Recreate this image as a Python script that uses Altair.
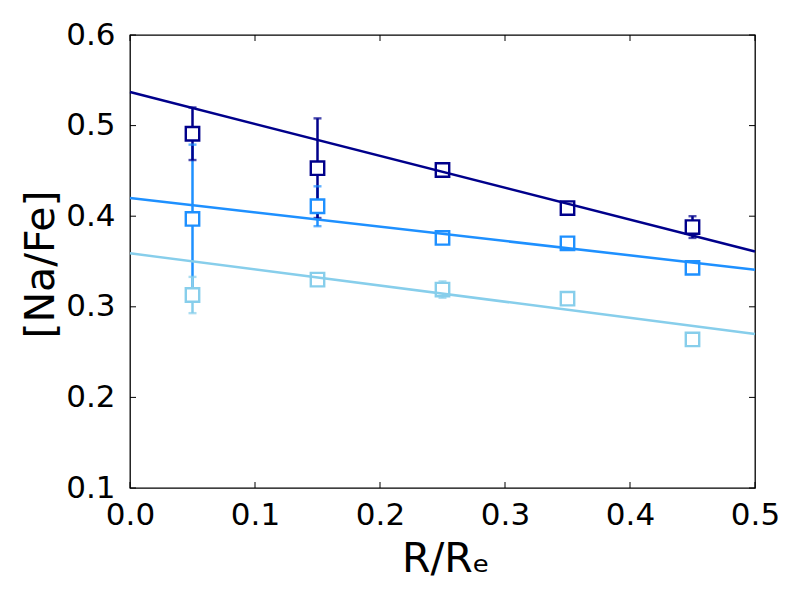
import altair as alt
import pandas as pd

# ---- data ----
r_vals = [0.05, 0.15, 0.25, 0.35, 0.45]

na_high = [0.491, 0.453, 0.451, 0.409, 0.388]
err_high = [0.029, 0.055, 0.004, 0.004, 0.012]

na_mid = [0.397, 0.411, 0.376, 0.370, 0.343]
err_mid = [0.082, 0.022, 0.004, 0.004, 0.004]

na_low = [0.313, 0.330, 0.319, 0.309, 0.264]
err_low = [0.020, 0.004, 0.009, 0.004, 0.004]

fit_x = [0.0, 0.5]
fit_high = [0.537, 0.361]
fit_mid = [0.420, 0.341]
fit_low = [0.359, 0.270]

series_order = ["mid", "high", "low"]          # drawing order
series_colors = ["#1E90FF", "#00008B", "#87CEEB"]

x_ticks = [0.0, 0.1, 0.2, 0.3, 0.4, 0.5]
y_ticks = [0.1, 0.2, 0.3, 0.4, 0.5, 0.6]

W, H = 625, 453
FONT = "DejaVu Sans"

# ---- tables ----
pts = {"mid": (na_mid, err_mid), "high": (na_high, err_high), "low": (na_low, err_low)}
rows = []
for s in series_order:
    vals, errs = pts[s]
    for x, v, e in zip(r_vals, vals, errs):
        rows.append({"s": s, "x": x, "y": v, "lo": v - e, "hi": v + e})
df = pd.DataFrame(rows)

fits = {"mid": fit_mid, "high": fit_high, "low": fit_low}
frows = []
for s in series_order:
    for x, v in zip(fit_x, fits[s]):
        frows.append({"s": s, "x": x, "y": v})
dfit = pd.DataFrame(frows)

dxt = pd.DataFrame({"x": x_ticks})
dyt = pd.DataFrame({"y": y_ticks})

# ---- scales / axes ----
xscale = alt.Scale(domain=[0, 0.5], nice=False, zero=False)
yscale = alt.Scale(domain=[0.1, 0.6], nice=False, zero=False)

xaxis = alt.Axis(values=x_ticks, format=".1f", grid=False, ticks=False, tickSize=0,
                 domain=False, labelFont=FONT, labelFontSize=31, labelColor="black",
                 labelPadding=12, labelFlush=False, titleFont=FONT, titleFontSize=41,
                 titleFontWeight="normal", titleColor="black", titleBaseline="alphabetic",
                 titleY=83, titleX=W / 2 + 3)
yaxis = alt.Axis(values=y_ticks, format=".1f", grid=False, ticks=False, tickSize=0,
                 domain=False, labelFont=FONT, labelFontSize=31, labelColor="black",
                 labelPadding=15, labelFlush=False, titleFont=FONT, titleFontSize=41,
                 titleFontWeight="normal", titleColor="black", titleBaseline="alphabetic",
                 titleAngle=270, titleX=-77, titleY=229)

XT = "R/Rₑ"
YT = "[Na/Fe]"


def xenc(field="x"):
    return alt.X(f"{field}:Q", scale=xscale, axis=xaxis, title=XT)


def yenc(field="y"):
    return alt.Y(f"{field}:Q", scale=yscale, axis=yaxis, title=YT)


cscale = alt.Scale(domain=series_order, range=series_colors)
stroke_enc = alt.Stroke("s:N", scale=cscale, legend=None)

bars = alt.Chart(df).mark_rule().encode(
    x=xenc(), y=yenc("lo"), y2="hi", stroke=stroke_enc, strokeWidth=alt.value(2.5))

cap_lo = alt.Chart(df).mark_tick(orient="horizontal", size=8, thickness=2.4).encode(
    x=xenc(), y=yenc("lo"), color=alt.Color("s:N", scale=cscale, legend=None))
cap_hi = alt.Chart(df).mark_tick(orient="horizontal", size=8, thickness=2.4).encode(
    x=xenc(), y=yenc("hi"), color=alt.Color("s:N", scale=cscale, legend=None))

markers = alt.Chart(df).mark_point(shape="square", filled=True, fill="white", size=180,
                                   strokeWidth=2.4, opacity=1).encode(
    x=xenc(), y=yenc(), stroke=stroke_enc)

lines = alt.Chart(dfit).mark_line(strokeWidth=2.5).encode(
    x=xenc(), y=yenc(), stroke=stroke_enc, detail="s:N")

TL = 6
xt_bot = alt.Chart(dxt).mark_rule(color="black", strokeWidth=1).encode(
    x=xenc(), y=alt.value(H), y2=alt.value(H - TL))
xt_top = alt.Chart(dxt).mark_rule(color="black", strokeWidth=1).encode(
    x=xenc(), y=alt.value(0), y2=alt.value(TL))
yt_left = alt.Chart(dyt).mark_rule(color="black", strokeWidth=1).encode(
    y=yenc(), x=alt.value(0), x2=alt.value(TL))
yt_right = alt.Chart(dyt).mark_rule(color="black", strokeWidth=1).encode(
    y=yenc(), x=alt.value(W), x2=alt.value(W - TL))

chart = alt.layer(
    xt_bot, xt_top, yt_left, yt_right, bars, cap_lo, cap_hi, markers, lines
).properties(
    width=W, height=H,
    autosize=alt.AutoSizeParams(type="none"),
    padding={"left": 122, "top": 27, "right": 37, "bottom": 104},
).configure(
    background="white",
    view=alt.ViewConfig(stroke="black", strokeWidth=1.3),
)

chart.save("out.html", embed_options={"renderer": "svg", "actions": False})
